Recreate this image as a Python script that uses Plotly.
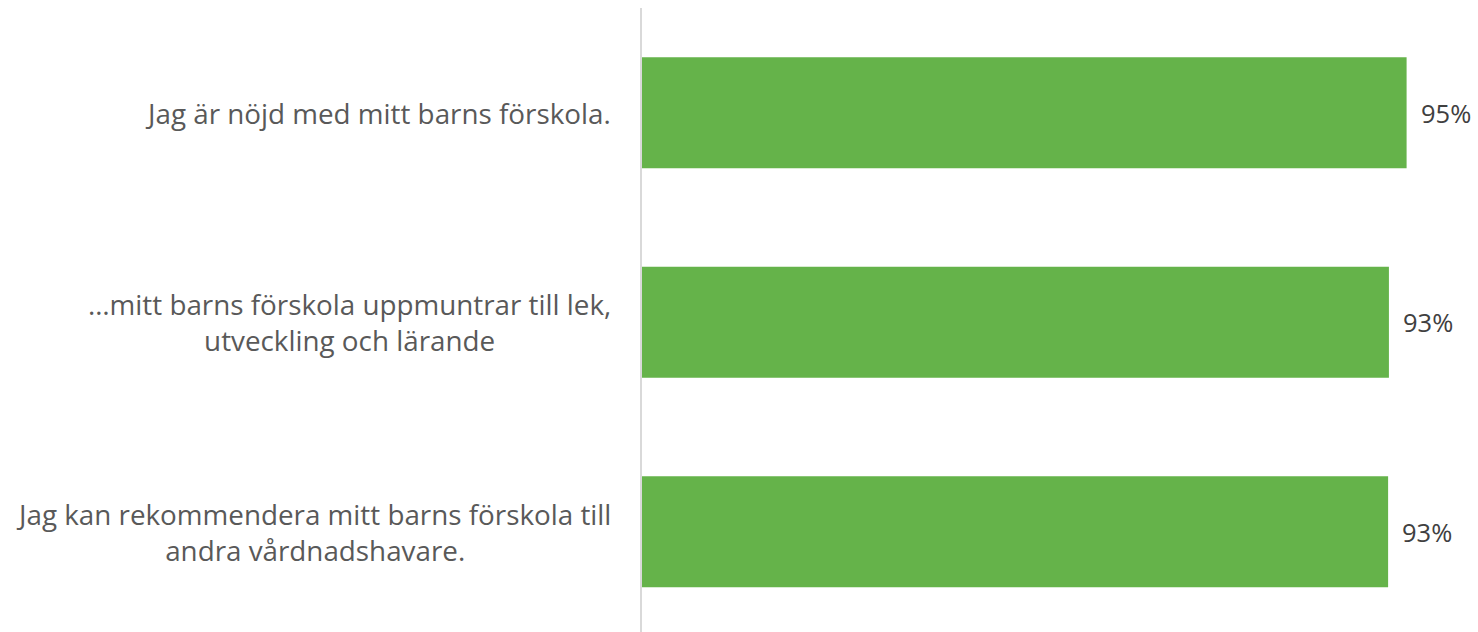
import plotly.graph_objects as go

categories = [
    "Jag är nöjd med mitt barns förskola.",
    "…mitt barns förskola uppmuntrar till lek,<br>utveckling och lärande",
    "Jag kan rekommendera mitt barns förskola till<br>andra vårdnadshavare.",
]
values = [95.1, 92.9, 92.8]
value_labels = ["95%", "93%", "93%"]

BAR_COLOR = "#65B34A"
LABEL_COLOR = "#595959"
VALUE_COLOR = "#404040"
FONT = "Open Sans"

positions = list(range(len(categories)))

fig = go.Figure()
fig.add_trace(go.Bar(
    x=values,
    y=positions,
    orientation="h",
    marker=dict(color=BAR_COLOR, line=dict(width=0)),
    width=0.53,
    hoverinfo="skip",
))

for i, (v, t) in enumerate(zip(values, value_labels)):
    fig.add_annotation(
        x=v, y=i, text=t, showarrow=False,
        xanchor="left", yanchor="middle", xshift=12,
        font=dict(family=FONT, size=25.5, color=VALUE_COLOR),
    )

for i, c in enumerate(categories):
    fig.add_annotation(
        x=0, y=i, text=c, showarrow=False,
        xanchor="right", yanchor="middle", align="center", xshift=-29,
        font=dict(family=FONT, size=27.8, color=LABEL_COLOR),
    )

fig.update_layout(
    width=1478, height=632,
    margin=dict(l=642, r=32, t=8, b=0, pad=0),
    paper_bgcolor="white", plot_bgcolor="white",
    showlegend=False,
    font=dict(family=FONT, color=LABEL_COLOR),
    xaxis=dict(range=[0, 100], visible=False, showgrid=False, zeroline=False, fixedrange=True),
    yaxis=dict(
        range=[2.4785, -0.5],
        tickmode="array",
        tickvals=positions,
        showticklabels=False,
        showline=True, linecolor="#D9D9D9", linewidth=2,
        ticks="", showgrid=False, zeroline=False,
        fixedrange=True,
    ),
)

fig.write_html("out.html")
